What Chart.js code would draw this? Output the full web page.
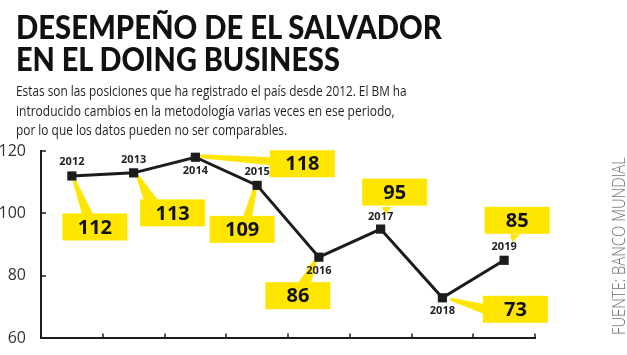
<!DOCTYPE html>
<html><head><meta charset="utf-8">
<script src="https://cdn.jsdelivr.net/npm/chart.js@4.4.1/dist/chart.umd.min.js"></script>
<style>
html,body{margin:0;padding:0;background:#fff;width:627px;height:355px;overflow:hidden;}
#wrap{position:relative;width:627px;height:355px;}
canvas{position:absolute;left:0;top:0;}
.t{position:absolute;left:16px;white-space:nowrap;font-family:'Open Sans','Noto Sans',sans-serif;}
.line{display:block;width:max-content;transform-origin:0 0;}
#title{top:10.5px;font-family:Lato,'Open Sans',sans-serif;font-size:32px;line-height:32px;font-weight:900;color:#111;}
#sub{top:81.4px;font-size:15px;line-height:19.5px;font-weight:400;color:#231f20;}
#src{position:absolute;left:609px;top:335px;transform-origin:0 0;font-family:'Open Sans','Noto Sans',sans-serif;font-size:18px;line-height:18px;font-weight:300;color:#6d6e70;white-space:nowrap;width:max-content;}
</style>
</head><body>
<div id="wrap">
<canvas id="c" width="627" height="355"></canvas>
<div id="title" class="t"><span class="line" data-w="426">DESEMPEÑO DE EL SALVADOR</span><span class="line" data-w="324">EN EL DOING BUSINESS</span></div>
<div id="sub" class="t"><span class="line" data-w="391">Estas son las posiciones que ha registrado el país desde 2012. El BM ha</span><span class="line" data-w="379">introducido cambios en la metodología varias veces en ese periodo,</span><span class="line" data-w="271">por lo que los datos pueden no ser comparables.</span></div>
<div id="src" data-w="178">FUENTE: BANCO MUNDIAL</div>
</div>
<script>
// ---- data ----
const years = ['2012','2013','2014','2015','2016','2017','2018','2019'];
const ranks = [112, 113, 118, 109, 86, 95, 73, 85];
const yTicks = [60, 80, 100, 120];

// ---- callout layout (offsets from each point, px) ----
const yearLabelDy = [-14, -13, 14, -13, 14, -12, 13, -13];
const boxCenter = [[23,51],[39,40],[107,6.5],[-15,44],[-21,38.5],[14,-37],[73,11.5],[13,-40]];
const wedges = [
  [[0,2],[3,2],[21,38],[10,38]],
  [[2,2],[5,2],[24,27],[10,27]],
  [[5,-3],[5,1],[76,8],[76,0]],
  [[-4,3],[0,3],[-5,31],[-14,31]],
  [[-6,4],[-2,4],[-8,26],[-21,26]],
  [[5,-15],[5,-15],[11,-22],[1,-22]],
  [[8,0],[8,3],[41,16],[41,6]],
  [[8,-18],[8,-18],[16,-26],[6,-26]]
];
const BOX_W = 65, BOX_H = 27;
const YELLOW = '#ffe600';
const INK = '#1c1c1c';

// fit HTML text lines
document.querySelectorAll('.line').forEach(el => {
  const w = el.offsetWidth; const s = (+el.dataset.w) / w;
  el.style.transform = 'scaleX(' + s + ')';
});
const src = document.getElementById('src');
src.style.transform = 'rotate(-90deg) scaleX(' + ((+src.dataset.w) / src.offsetWidth) + ')';

const callouts = {
  id: 'callouts',
  beforeDatasetsDraw(chart) {
    const ctx = chart.ctx, meta = chart.getDatasetMeta(0);
    ctx.save();
    ctx.fillStyle = YELLOW;
    meta.data.forEach((p, i) => {
      const w = wedges[i];
      ctx.beginPath();
      ctx.moveTo(p.x + w[0][0], p.y + w[0][1]);
      for (let k = 1; k < w.length; k++) ctx.lineTo(p.x + w[k][0], p.y + w[k][1]);
      ctx.closePath(); ctx.fill();
      const cx = p.x + boxCenter[i][0], cy = p.y + boxCenter[i][1];
      ctx.fillRect(cx - BOX_W / 2, cy - BOX_H / 2, BOX_W, BOX_H);
    });
    ctx.fillStyle = '#111';
    ctx.font = "bold 20px 'Open Sans', 'Noto Sans', sans-serif";
    ctx.textAlign = 'center'; ctx.textBaseline = 'middle';
    meta.data.forEach((p, i) => {
      ctx.fillText(String(ranks[i]), p.x + boxCenter[i][0], p.y + boxCenter[i][1] + 1);
    });
    // inward axis ticks
    const xs = chart.scales.x, ys = chart.scales.y, a = chart.chartArea;
    ctx.strokeStyle = INK; ctx.lineWidth = 1.5;
    ctx.beginPath();
    for (let k = 0; k < years.length; k++) {
      const x = Math.round(xs.getPixelForValue(k + 0.5));
      ctx.moveTo(x, a.bottom); ctx.lineTo(x, a.bottom - 5);
    }
    yTicks.forEach(v => {
      if (v === ys.min) return;
      const y = Math.round(ys.getPixelForValue(v));
      ctx.moveTo(a.left, y); ctx.lineTo(a.left + 5, y);
    });
    ctx.stroke();
    ctx.restore();
  },
  afterDatasetsDraw(chart) {
    const ctx = chart.ctx, meta = chart.getDatasetMeta(0);
    ctx.save();
    ctx.fillStyle = '#222';
    ctx.font = "bold 11px 'Open Sans', 'Noto Sans', sans-serif";
    ctx.textAlign = 'center'; ctx.textBaseline = 'middle';
    meta.data.forEach((p, i) => ctx.fillText(years[i], p.x, p.y + yearLabelDy[i]));
    ctx.restore();
  }
};

new Chart(document.getElementById('c'), {
  type: 'line',
  data: {
    labels: years,
    datasets: [{
      data: ranks,
      borderColor: INK, borderWidth: 3,
      pointStyle: 'rect', pointRadius: 6.5, pointHoverRadius: 6.5,
      pointBackgroundColor: INK, pointBorderColor: INK, pointBorderWidth: 0,
      tension: 0, clip: false
    }]
  },
  options: {
    responsive: false, animation: false, devicePixelRatio: 1,
    layout: { padding: { left: 0, right: 92, top: 151, bottom: 15 } },
    plugins: { legend: { display: false }, tooltip: { enabled: false }, title: { display: false } },
    scales: {
      x: {
        offset: true,
        grid: { display: false },
        border: { display: true, color: INK, width: 2 },
        ticks: { display: false },
        afterFit(s) { s.height = 0; }
      },
      y: {
        min: 60, max: 120,
        afterBuildTicks(s) { s.ticks = yTicks.map(v => ({ value: v })); },
        grid: { display: false },
        border: { display: true, color: INK, width: 2 },
        ticks: { color: '#333', padding: 7, font: { family: "'Open Sans', 'Noto Sans', sans-serif", size: 16 } },
        afterFit(s) { s.width = 41; }
      }
    }
  },
  plugins: [callouts]
});
</script>
</body></html>
